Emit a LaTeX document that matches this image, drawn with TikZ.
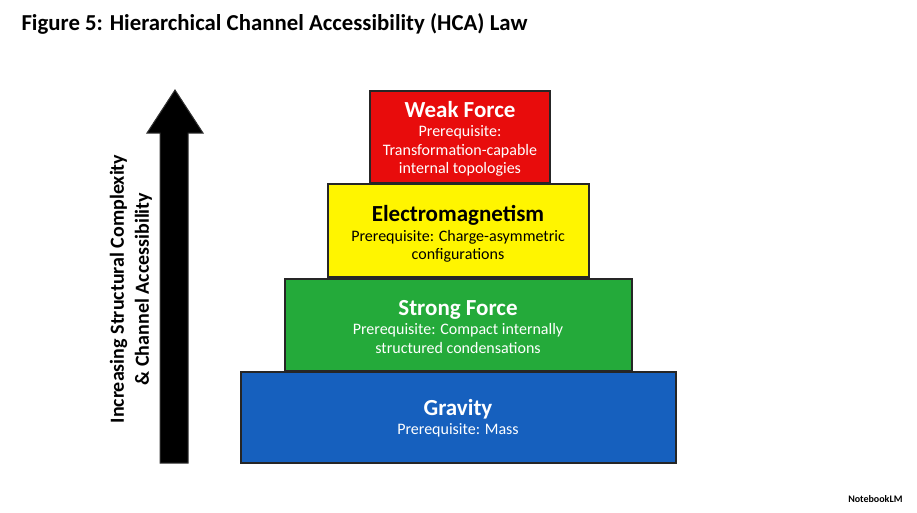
\documentclass[tikz,border=0pt]{standalone}
\usepackage{fontspec}
\setmainfont{Carlito}
\definecolor{cR}{RGB}{232,12,12}
\definecolor{cY}{RGB}{255,245,0}
\definecolor{cG}{RGB}{36,170,58}
\definecolor{cB}{RGB}{22,96,190}
\begin{document}
\begin{tikzpicture}[x=1pt,y=-1pt,
  box/.style={draw=black!85,line width=1.5pt},
  txt/.style={align=center,inner sep=0pt,font=\fontsize{16}{18.5}\selectfont}]
\newcommand{\bt}[1]{{\bfseries\fontsize{23}{24}\selectfont #1}}
\useasboundingbox[fill=white] (0,0) rectangle (917,512);
\node[anchor=west,font=\bfseries\fontsize{22.8}{24}\selectfont] (title) at (18,24) {Figure 5: Hierarchical Channel Accessibility (HCA) Law};
\draw[fill=black,draw=black!80,line width=1pt] (160,463) -- (188,463) -- (188,133) -- (203,133) -- (175,90) -- (147,133) -- (160,133) -- cycle;
\node[rotate=90,font=\bfseries\fontsize{20}{25}\selectfont,align=center] (lab) at (131,289) {Increasing Structural Complexity\\\& Channel Accessibility};
\fill[cR,box] (370,91) rectangle (550,183);
\node[txt,text=white] (w) at (460,139) {\bt{Weak Force}\\[1pt]Prerequisite:\\Transformation-capable\\internal topologies};
\fill[cY,box] (328,184) rectangle (589,277);
\node[txt] (e) at (458,234) {\bt{Electromagnetism}\\[1pt]Prerequisite: Charge-asymmetric\\configurations};
\fill[cG,box] (285,279) rectangle (632,371);
\node[txt,text=white] (s) at (458,327) {\bt{Strong Force}\\[1pt]Prerequisite: Compact internally\\structured condensations};
\fill[cB,box] (241,372) rectangle (676,463);
\node[txt,text=white] (g) at (458,418) {\bt{Gravity}\\[1pt]Prerequisite: Mass};
\node[anchor=east,font=\bfseries\fontsize{10}{12}\selectfont] (nb) at (906,499) {NotebookLM};
\end{tikzpicture}
\end{document}
